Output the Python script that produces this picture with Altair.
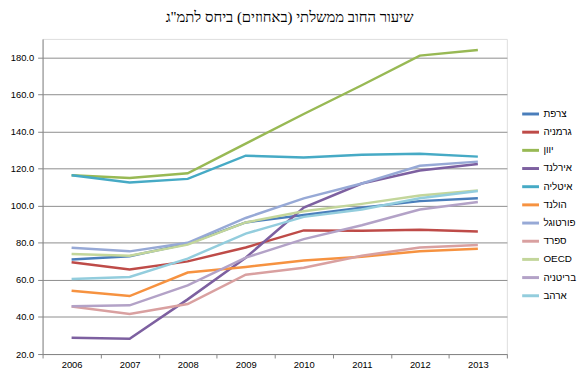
import altair as alt
import pandas as pd

years = ["2006", "2007", "2008", "2009", "2010", "2011", "2012", "2013"]

countries = ["צרפת", "גרמניה", "יוון", "אירלנד", "איטליה", "הולנד",
             "פורטוגל", "ספרד", "OECD", "בריטניה", "ארהב"]

france      = [71.0, 72.8, 79.5, 91.0, 95.0, 99.0, 102.5, 104.0]
germany     = [69.5, 65.6, 70.0, 77.5, 86.7, 86.5, 87.0, 86.1]
greece      = [116.5, 115.0, 117.5, 133.5, 149.5, 165.0, 181.0, 184.0]
ireland     = [28.8, 28.3, 49.5, 72.0, 99.0, 112.0, 119.0, 122.5]
italy       = [116.5, 112.5, 114.5, 127.0, 126.0, 127.5, 128.0, 126.5]
netherlands = [54.2, 51.3, 64.0, 67.0, 70.5, 72.5, 75.5, 76.8]
portugal    = [77.3, 75.4, 80.0, 93.4, 104.0, 112.0, 121.6, 123.8]
spain       = [45.6, 41.6, 47.0, 62.8, 66.6, 73.0, 77.5, 78.8]
oecd        = [74.0, 73.0, 79.0, 91.0, 97.0, 101.0, 105.5, 108.3]
uk          = [45.8, 46.3, 57.0, 72.0, 82.0, 89.5, 98.0, 102.0]
usa         = [60.5, 61.6, 71.5, 85.0, 94.0, 98.0, 104.0, 108.0]

colors = ["#4A7EBB", "#BE4B48", "#98B954", "#7D60A0", "#46AAC5", "#F69240",
          "#97A9D6", "#D9A0A0", "#C3D69B", "#B3A2C7", "#93CDDD"]

series = [france, germany, greece, ireland, italy, netherlands,
          portugal, spain, oecd, uk, usa]

rows = []
for name, vals in zip(countries, series):
    for yr, v in zip(years, vals):
        rows.append({"year": yr, "country": name, "value": v})
df = pd.DataFrame(rows)

y_ticks = [20, 40, 60, 80, 100, 120, 140, 160, 180]

chart = alt.Chart(df).mark_line(strokeWidth=2.5).encode(
    x=alt.X("year:O", scale=alt.Scale(type="band", domain=years, paddingInner=0, paddingOuter=0),
            bandPosition=0.5,
            axis=alt.Axis(title=None, labelAngle=0, tickBand="extent", grid=False,
                          domainColor="#868686", tickColor="#868686", tickSize=4,
                          labelFont="Liberation Sans", labelFontSize=9.5, labelColor="#000000",
                          labelPadding=2)),
    y=alt.Y("value:Q", scale=alt.Scale(domain=[20, 190], nice=False, zero=False),
            axis=alt.Axis(title=None, values=y_ticks, format=".1f", grid=True,
                          gridColor="#8C8C8C", gridWidth=1, gridOpacity=1,
                          domainColor="#868686", tickColor="#868686", tickSize=5,
                          labelFont="Liberation Sans", labelFontSize=9.5, labelColor="#000000",
                          labelPadding=4)),
    color=alt.Color("country:N", scale=alt.Scale(domain=countries, range=colors),
                    sort=countries,
                    legend=alt.Legend(title=None, orient="none", legendX=484, legendY=66,
                                      symbolType="stroke", symbolSize=289, symbolStrokeWidth=3,
                                      rowPadding=2.4, labelFont="Liberation Sans",
                                      labelFontSize=10, labelColor="#000000", labelOffset=3)),
    order=alt.Order("year:O"),
).properties(
    width=470,
    height=319,
    padding={"left": 35, "top": 29, "right": 72, "bottom": 26},
    autosize=alt.AutoSizeParams(type="none"),
    title=alt.TitleParams(text="שיעור החוב ממשלתי (באחוזים) ביחס לתמ\"ג",
                          font="Liberation Serif", fontSize=15, fontWeight="normal",
                          color="#000000", anchor="middle", dx=15, offset=14),
).configure_view(stroke=None).configure(background="white")

chart.save("out.html", embed_options={"renderer": "svg", "actions": False})
